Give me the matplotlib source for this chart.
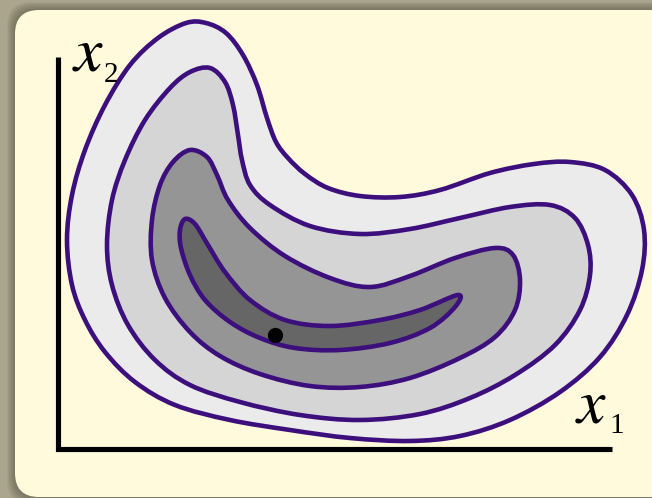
import matplotlib
matplotlib.use("Agg")
from matplotlib import pyplot as plt
from matplotlib.path import Path
from matplotlib.patches import PathPatch, FancyBboxPatch
import numpy as np

# contour outlines (pixel units, y pointing down)
outer_x = [186, 206, 226, 243, 257, 267, 276, 288, 305, 328, 360, 400, 440, 490, 534, 570, 605, 632, 644, 642,
           627, 600, 560, 510, 460, 410, 350, 290, 230, 175, 135, 105, 85, 72, 67, 72, 85, 105, 130, 158]
outer_y = [23, 23, 33, 55, 85, 118, 142, 158, 174, 188, 196, 197, 190, 173, 164, 162, 170, 195, 230, 270,
           315, 357, 392, 420, 436, 441, 438, 430, 420, 405, 382, 352, 320, 285, 240, 195, 150, 105, 65, 38]

second_x = [210, 225, 233, 238, 242, 250, 270, 310, 360, 410, 460, 510, 550, 575, 588, 590, 580, 555, 515, 470,
            420, 360, 300, 240, 190, 155, 128, 112, 107, 112, 125, 145, 170, 190]
second_y = [68, 82, 105, 135, 160, 185, 205, 226, 234, 229, 218, 207, 205, 218, 245, 275, 310, 345, 375, 398,
            414, 420, 415, 402, 385, 360, 325, 285, 245, 200, 160, 120, 88, 72]

third_x = [190, 207, 217, 228, 250, 285, 330, 370, 410, 455, 495, 513, 520, 515, 495, 460, 410, 360, 310, 260,
           220, 190, 165, 152, 152, 160, 173]
third_y = [150, 157, 175, 200, 228, 256, 278, 287, 276, 258, 248, 255, 280, 310, 337, 358, 378, 387, 386, 374,
           356, 332, 298, 260, 220, 185, 162]

inner_x = [185, 195, 208, 225, 250, 285, 330, 380, 420, 458, 455, 430, 390, 340, 295, 260, 230, 205, 190, 181,
           180]
inner_y = [219, 224, 245, 272, 300, 320, 326, 320, 310, 295, 307, 328, 343, 350, 348, 338, 322, 300, 275, 248,
           230]

contours = [(outer_x, outer_y, "#ebebeb"),
            (second_x, second_y, "#d5d5d5"),
            (third_x, third_y, "#959595"),
            (inner_x, inner_y, "#666666")]

minimum_x, minimum_y = [275], [335]

axis_x = [58, 58, 612]
axis_y = [57, 449, 449]

edge_color = "#3c0f7d"
cream = "#fffadc"


def closed_smooth_path(xs, ys):
    # closed Catmull-Rom curve through the traced points, as cubic Beziers
    pts = np.column_stack([xs, ys]).astype(float)
    n = len(pts)
    verts = [pts[0]]
    codes = [Path.MOVETO]
    for i in range(n):
        p0, p1, p2, p3 = pts[i - 1], pts[i], pts[(i + 1) % n], pts[(i + 2) % n]
        verts += [p1 + (p2 - p0) / 6, p2 - (p3 - p1) / 6, p2]
        codes += [Path.CURVE4] * 3
    verts.append(pts[0])
    codes.append(Path.CLOSEPOLY)
    return Path(verts, codes)


fig = plt.figure(figsize=(6.52, 4.98), dpi=100)
fig.patch.set_facecolor("#aba58d")
ax = fig.add_axes([0, 0, 1, 1])
ax.set_xlim(0, 652)
ax.set_ylim(498, 0)
ax.axis("off")

# soft shadow + cream card
r = 24
for k in range(8, 0, -1):
    ax.add_patch(FancyBboxPatch((15 + r - k, 10 + r - k), 660 - 2 * r + 2 * k, 487 - 2 * r + 2 * k,
                                boxstyle=f"round,pad={r}", fc="#4a4536", ec="none", alpha=0.07))
ax.add_patch(FancyBboxPatch((15 + r, 10 + r), 660 - 2 * r, 487 - 2 * r,
                            boxstyle=f"round,pad={r}", fc=cream, ec="none"))

for xs, ys, fc in contours:
    ax.add_patch(PathPatch(closed_smooth_path(xs, ys), facecolor=fc, edgecolor=edge_color,
                           lw=3.3, joinstyle="round"))

ax.plot(minimum_x, minimum_y, "o", color="black", ms=10)

ax.plot(axis_x, axis_y, color="black", lw=3.7, solid_joinstyle="miter", solid_capstyle="butt")

serif = "Liberation Serif"
ax.text(72, 70, r"$x$", math_fontfamily="stix", fontsize=46, va="baseline", ha="left")
ax.text(104, 82, "2", fontfamily=serif, fontsize=21, va="baseline", ha="left")
ax.text(575, 422, r"$x$", math_fontfamily="stix", fontsize=46, va="baseline", ha="left")
ax.text(609, 433, "1", fontfamily=serif, fontsize=21, va="baseline", ha="left")

plt.savefig("out.png", dpi=100, facecolor=fig.get_facecolor())
